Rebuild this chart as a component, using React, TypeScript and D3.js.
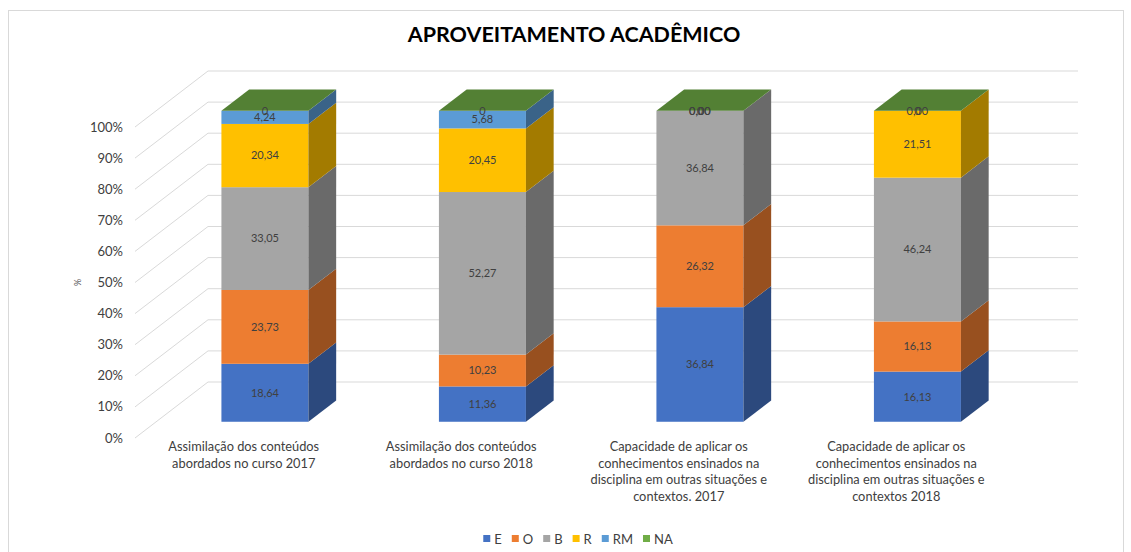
import React, { useEffect, useRef } from 'react';
import * as d3 from 'd3';

const categories = [
  ['Assimilação dos conteúdos', 'abordados no curso 2017'],
  ['Assimilação dos conteúdos', 'abordados no curso 2018'],
  ['Capacidade de aplicar os', 'conhecimentos ensinados na', 'disciplina em outras situações e', 'contextos. 2017'],
  ['Capacidade de aplicar os', 'conhecimentos ensinados na', 'disciplina em outras situações e', 'contextos 2018'],
];

const seriesNames = ['E', 'O', 'B', 'R', 'RM', 'NA'];
const seriesColors = ['#4472C4', '#ED7D31', '#A5A5A5', '#FFC000', '#5B9BD5', '#70AD47'];

const valuesE = [18.64, 11.36, 36.84, 16.13];
const valuesO = [23.73, 10.23, 26.32, 16.13];
const valuesB = [33.05, 52.27, 36.84, 46.24];
const valuesR = [20.34, 20.45, 0, 21.51];
const valuesRM = [4.24, 5.68, 0, 0];
const valuesNA = [0, 0, 0, 0];

const yTicks = [0, 0.1, 0.2, 0.3, 0.4, 0.5, 0.6, 0.7, 0.8, 0.9, 1];

const FONT = 'Lato, Carlito, Calibri, "Open Sans", sans-serif';

const fmt = (v: number, key: string) => (key === 'NA' ? d3.format('d')(v) : d3.format('.2f')(v).replace('.', ','));

export default function App() {
  const svgRef = useRef<SVGSVGElement>(null);

  useEffect(() => {
    document.body.style.margin = '0';
    if (!svgRef.current) return;
    const width = 1131;
    const height = 552;
    const svg = d3.select(svgRef.current).attr('width', width).attr('height', height);
    svg.selectAll('*').remove();

    // chart border
    svg.append('rect')
      .attr('x', 8.5).attr('y', 10.5)
      .attr('width', 1115).attr('height', 560)
      .attr('fill', '#fff').attr('stroke', '#D9D9D9');

    // 3d geometry
    const x0 = 135, x1 = 1005;
    const depth = { dx: 73, dy: -56 };
    const barFront = 0.29, barBack = 0.67;

    const x = d3.scaleBand<number>()
      .domain(d3.range(categories.length))
      .range([x0, x1])
      .paddingInner(0.6)
      .paddingOuter(0.3);
    const y = d3.scaleLinear().domain([0, 1]).range([438, 127]);

    const rows = categories.map((_, i) => ({
      E: valuesE[i], O: valuesO[i], B: valuesB[i], R: valuesR[i], RM: valuesRM[i], NA: valuesNA[i],
    }));
    const stack = d3.stack<any>().keys(seriesNames).offset(d3.stackOffsetExpand);
    const stacked = stack(rows);

    // grid: side wall diagonals + back wall lines
    const grid = svg.append('g').attr('stroke', '#D9D9D9').attr('stroke-width', 1);
    yTicks.forEach(t => {
      const yf = y(t);
      grid.append('line')
        .attr('x1', x0).attr('y1', yf)
        .attr('x2', x0 + depth.dx).attr('y2', yf + depth.dy);
      grid.append('line')
        .attr('x1', x0 + depth.dx).attr('y1', yf + depth.dy)
        .attr('x2', x1 + depth.dx).attr('y2', yf + depth.dy);
    });

    // tick labels
    svg.append('g').selectAll('text').data(yTicks).enter().append('text')
      .attr('x', 123).attr('y', d => y(d)).attr('dy', '0.35em')
      .attr('text-anchor', 'end')
      .attr('font-family', FONT).attr('font-size', 13).attr('fill', '#404040')
      .text(d => d3.format('.0%')(d));

    svg.append('text')
      .attr('transform', `translate(81,${y(0.5)}) rotate(-90)`)
      .attr('text-anchor', 'middle')
      .attr('font-family', FONT).attr('font-size', 9).attr('fill', '#595959')
      .text('%');

    // bars
    const fdx = depth.dx * barFront, fdy = depth.dy * barFront;
    const bdx = depth.dx * (barBack - barFront), bdy = depth.dy * (barBack - barFront);
    const bw = x.bandwidth();
    const poly = (pts: [number, number][]) => 'M' + pts.map(p => p.join(',')).join('L') + 'Z';

    const bars = svg.append('g');
    categories.forEach((_, i) => {
      const xl = (x(i) as number) + fdx;
      const xr = xl + bw;
      stacked.forEach((s, si) => {
        const yb = y(s[i][0]) + fdy;
        const yt = y(s[i][1]) + fdy;
        const c = d3.color(seriesColors[si])!;
        bars.append('rect')
          .attr('x', xl).attr('y', yt)
          .attr('width', bw).attr('height', Math.max(0, yb - yt))
          .attr('fill', seriesColors[si]);
        bars.append('path')
          .attr('d', poly([[xr, yb], [xr, yt], [xr + bdx, yt + bdy], [xr + bdx, yb + bdy]]))
          .attr('fill', c.darker(1.25).toString());
        if (si === stacked.length - 1) {
          bars.append('path')
            .attr('d', poly([[xl, yt], [xr, yt], [xr + bdx, yt + bdy], [xl + bdx, yt + bdy]]))
            .attr('fill', c.darker(0.85).toString());
        }
      });
    });

    // value labels
    const labels = svg.append('g')
      .attr('font-family', FONT).attr('font-size', 11).attr('fill', '#404040')
      .attr('text-anchor', 'middle');
    categories.forEach((_, i) => {
      const cx = (x(i) as number) + fdx + bw / 2;
      stacked.forEach(s => {
        const v = (s[i].data as any)[s.key];
        const ym = y((s[i][0] + s[i][1]) / 2) + fdy;
        labels.append('text')
          .attr('x', cx).attr('y', ym).attr('dy', '0.35em')
          .text(fmt(v, s.key));
      });
    });

    // category labels
    const cat = svg.append('g')
      .attr('font-family', FONT).attr('font-size', 12.8).attr('fill', '#404040')
      .attr('text-anchor', 'middle');
    categories.forEach((lines, i) => {
      const cx = (x(i) as number) + bw / 2;
      lines.forEach((ln, li) => {
        cat.append('text').attr('x', cx).attr('y', 451 + li * 16.7).text(ln);
      });
    });

    // title
    svg.append('text')
      .attr('x', 574).attr('y', 42)
      .attr('text-anchor', 'middle')
      .attr('font-family', FONT).attr('font-size', 21.5).attr('font-weight', 'bold')
      .attr('fill', '#000')
      .text('APROVEITAMENTO ACADÊMICO');

    // legend
    const legend = svg.append('g').attr('font-family', FONT).attr('font-size', 13).attr('fill', '#404040');
    const items = seriesNames.map((n, i) => {
      const g = legend.append('g');
      g.append('rect').attr('x', 0).attr('y', -9).attr('width', 7).attr('height', 7).attr('fill', seriesColors[i]);
      const t = g.append('text').attr('x', 11).attr('y', 0).text(n);
      const w = 11 + (t.node() as SVGTextElement).getComputedTextLength();
      return { g, w };
    });
    const gap = 10;
    const total = d3.sum(items, d => d.w) + gap * (items.length - 1);
    let lx = 578 - total / 2;
    items.forEach(it => {
      it.g.attr('transform', `translate(${lx},544)`);
      lx += it.w + gap;
    });
  }, []);

  return <svg ref={svgRef} style={{ display: 'block' }}></svg>;
}
